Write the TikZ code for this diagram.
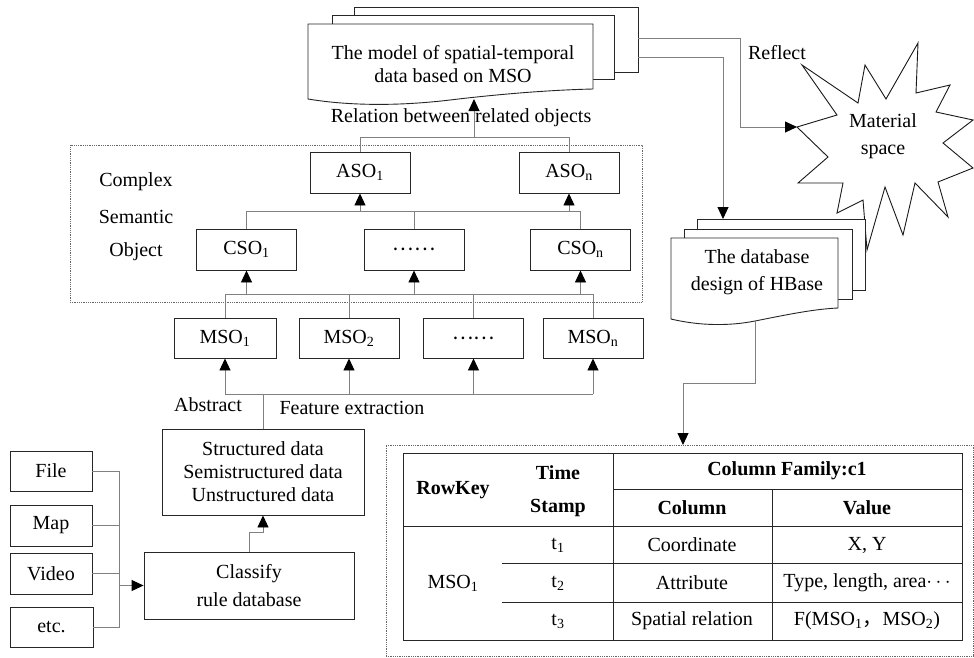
\documentclass[tikz,border=0pt]{standalone}
\usepackage{fontspec}
\setmainfont{Liberation Serif}
\newfontfamily\cjk{Noto Sans CJK SC}
\usetikzlibrary{arrows.meta}
\newcommand\sbs[1]{\textsubscript{#1}}

\begin{document}
\begin{tikzpicture}[x=1pt,y=-1pt,
  font=\fontsize{20}{23}\selectfont,
  box/.style={draw=black!85,line width=0.9pt,fill=white,inner sep=0pt,
              minimum height=41pt,minimum width=100pt},
  link/.style={draw=black!50,line width=0.9pt},
  arr/.style={link,-{Triangle[length=12pt,width=11pt,color=black]}},
  sheet/.style={draw=black!85,line width=0.9pt,fill=white},
  dotbox/.style={draw=black!60,densely dotted,line width=0.8pt,inner sep=0pt},
  lbl/.style={inner sep=0pt},
  th/.style={inner sep=0pt,font=\fontsize{20}{23}\selectfont\bfseries},
  grid/.style={draw=black!85,line width=0.9pt}]

\useasboundingbox (0,0) rectangle (974,657);

% dotted group frames
\node[dotbox,minimum width=572pt,minimum height=157pt] (cso-area) at (356,223.5) {};
\node[dotbox,minimum width=587pt,minimum height=211pt] (hb-area) at (679.5,550.5) {};

% stacked document: data model
\draw[sheet] (354,7) rectangle (638,72);
\draw[sheet] (332,15) rectangle (614,79);
\draw[sheet] (308,24) -- (593,24) -- (593,89)
  .. controls (550,90) and (500,94) .. (450,100)
  .. controls (400,106) and (350,106) .. (308,99) -- cycle;
\node[lbl,align=center] (model) at (453,64) {The model of spatial-temporal\\data based on MSO};
\coordinate (model-out1) at (638,38);
\coordinate (model-out2) at (638,57);
\coordinate (model-in) at (474,99);

% burst: material space
\draw[line width=0.9pt,draw=black!90,fill=white]
  (797,127) -- (837,115) -- (802,65) -- (858,103) -- (865,65) -- (886,99)
  -- (918,43) -- (916,93) -- (950,85) -- (936,112) -- (973,120) -- (943,143)
  -- (973,168) -- (938,182) -- (948,217) -- (915,183) -- (903,235) -- (885,187)
  -- (867,250) -- (863,200) -- (837,213) -- (843,183) -- (798,183) -- (828,157) -- cycle;
\coordinate (star-tip) at (797,127);
\node[lbl,align=center] (space) at (883,136) {Material\\[4pt]space};

% stacked document: HBase design
\draw[sheet] (697,219) rectangle (865,290);
\draw[sheet] (684,229) rectangle (852,299);
\draw[sheet] (671,238) -- (838,238) -- (838,308)
  .. controls (815,309) and (790,314) .. (755,321)
  .. controls (730,326) and (700,326) .. (671,319) -- cycle;
\node[lbl,align=center] (hbase) at (757,272.5) {The database\\[4pt]design of HBase};
\coordinate (hb-in) at (723,219);
\coordinate (hb-out) at (755,321);
\coordinate (tb-in) at (683,445);

% links on the right
\draw[arr] (model-out1) -- ++(102,0) |- (star-tip);
\draw[arr] (model-out2) -| (hb-in);
\node[lbl] (reflect) at (777,53) {Reflect};
\draw[arr] (hb-out) -- ++(0,62) -| (tb-in);

% complex semantic objects
\node[lbl] (lab1) at (136,182) {Complex};
\node[lbl] (lab2) at (136,217) {Semantic};
\node[lbl] (lab3) at (136,252) {Object};

\node[box] (ASO1) at (360,172.5) {ASO\sbs{1}};
\node[box] (ASOn) at (569,172.5) {ASO\sbs{n}};
\node[box] (CSO1) at (246.5,249.5) {CSO\sbs{1}};
\node[box] (CSOm) at (414,249.5) {{\cjk ……}};
\node[box] (CSOn) at (580.5,249.5) {CSO\sbs{n}};

\node[box,minimum height=40pt,minimum width=102pt] (MSO1) at (225,338) {MSO\sbs{1}};
\node[box,minimum height=40pt,minimum width=100pt] (MSO2) at (349,338) {MSO\sbs{2}};
\node[box,minimum height=40pt,minimum width=100pt] (MSOm) at (473.5,338) {{\cjk ……}};
\node[box,minimum height=40pt,minimum width=100pt] (MSOn) at (593,338) {MSO\sbs{n}};

\coordinate (rel) at (474,137);
\coordinate (cbar) at (0,211);
\coordinate (mbar) at (0,294);
\coordinate (dbar) at (0,394);

\node[lbl] (reltext) at (461,118) {Relation between related objects};
\draw[link] (ASO1.north) -- (ASO1.north |- rel) -- (ASOn.north |- rel) -- (ASOn.north);
\draw[arr] (rel) -- (model-in);

\draw[link] (CSO1.north) -- (CSO1.north |- cbar) -- (CSOn.north |- cbar) -- (CSOn.north);
\draw[link] (CSOm.north) -- (CSOm.north |- cbar);
\draw[arr] (ASO1.south |- cbar) -- (ASO1.south);
\draw[arr] (ASOn.south |- cbar) -- (ASOn.south);

\draw[link] (MSO1.north) -- (MSO1.north |- mbar) -- (MSOn.north |- mbar) -- (MSOn.north);
\draw[link] (MSO2.north) -- (MSO2.north |- mbar);
\draw[link] (MSOm.north) -- (MSOm.north |- mbar);
\draw[arr] (CSO1.south |- mbar) -- (CSO1.south);
\draw[arr] (CSOm.south |- mbar) -- (CSOm.south);
\draw[arr] (CSOn.south |- mbar) -- (CSOn.south);

% raw data and sources
\node[box,minimum width=202pt,minimum height=86pt,align=center] (data) at (263,472)
  {Structured data\\Semistructured data\\Unstructured data};
\node[box,minimum width=210pt,minimum height=67pt,align=center] (classify) at (249,585.5)
  {Classify\\[5pt]rule database};

\draw[link] (MSO1.south |- dbar) -- (MSOn.south |- dbar);
\draw[link] (data.north) -- (data.north |- dbar);
\foreach \m in {MSO1,MSO2,MSOm,MSOn}
  \draw[arr] (\m.south |- dbar) -- (\m.south);
\node[lbl] (abstract) at (208,405) {Abstract};
\node[lbl] (feature) at (352,408) {Feature extraction};

\draw[arr] (classify.north) -- ++(0,-19) -| (data.south);

\node[box,minimum width=82pt,minimum height=40pt] (file) at (51,471) {File};
\node[box,minimum width=82pt,minimum height=41pt] (map) at (51,525.5) {Map};
\node[box,minimum width=82pt,minimum height=41pt] (video) at (51,573.5) {Video};
\node[box,minimum width=83pt,minimum height=40pt] (etc) at (51.5,627) {etc.};

\coordinate (inbus) at (119,0);
\draw[link] (file.east) -- (file.east -| inbus) -- (etc.east -| inbus) -- (etc.east);
\draw[link] (map.east) -- (map.east -| inbus);
\draw[link] (video.east) -- (video.east -| inbus);
\draw[arr] (classify.west -| inbus) -- (classify.west);

% HBase table
\draw[grid] (403,453) rectangle (962,640);
\draw[grid] (613,453) -- (613,640);
\draw[grid] (772,489) -- (772,640);
\draw[grid] (613,489) -- (962,489);
\draw[grid] (403,526) -- (962,526);
\draw[grid] (502,563) -- (962,563);
\draw[grid] (502,602) -- (962,602);

\node[th] (h-row) at (453,490) {RowKey};
\node[th] (h-time) at (558,473) {Time};
\node[th] (h-stamp) at (558,508) {Stamp};
\node[th] (h-fam) at (787,471) {Column Family:c1};
\node[th] (h-col) at (692,508) {Column};
\node[th] (h-val) at (867,508) {Value};

\node[lbl] (r-key) at (453,583) {MSO\sbs{1}};
\node[lbl] (r-t1) at (558,545) {t\sbs{1}};
\node[lbl] (r-t2) at (558,583) {t\sbs{2}};
\node[lbl] (r-t3) at (558,621) {t\sbs{3}};
\node[lbl] (r-c1) at (692,545) {Coordinate};
\node[lbl] (r-c2) at (692,583) {Attribute};
\node[lbl] (r-c3) at (692,621) {Spatial relation};
\node[lbl] (r-v1) at (867,545) {X, Y};
\node[lbl] (r-v2) at (867,583) {Type, length, area$\cdots$};
\node[lbl] (r-v3) at (867,621) {F(MSO\sbs{1}{\cjk ，}MSO\sbs{2})};
\end{tikzpicture}
\end{document}
